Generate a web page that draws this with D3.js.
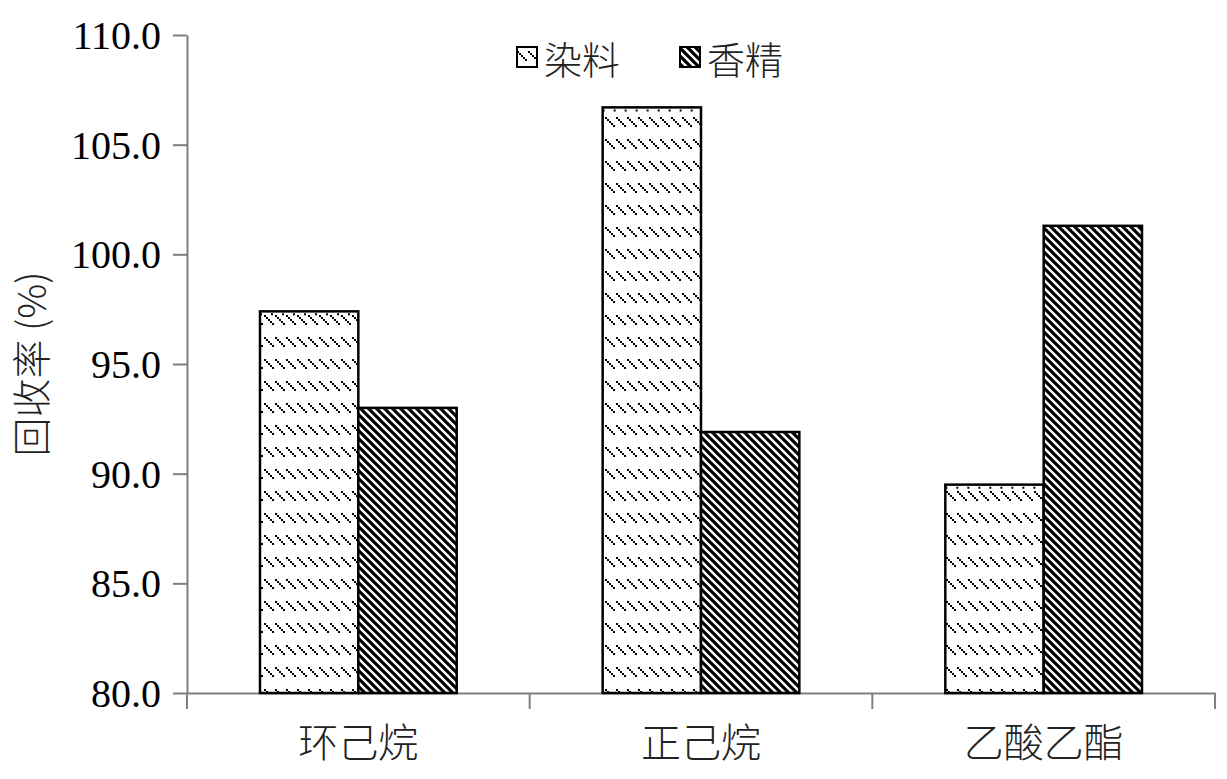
<!DOCTYPE html>
<html><head><meta charset="utf-8">
<script src="https://cdn.jsdelivr.net/npm/d3@7"></script>
<style>body{margin:0;background:#fff}</style>
</head><body>
<script>
const categories = ["环己烷", "正己烷", "乙酸乙酯"];
const seriesNames = ["染料", "香精"];
const dyeValues = [97.4, 106.7, 89.5];
const fragranceValues = [93.0, 91.9, 101.3];
const yTicks = [80, 85, 90, 95, 100, 105, 110];

const W = 1227, H = 779;
const m = {left: 187, right: 12, top: 35, bottom: 86};
const svg = d3.select("body").append("svg").attr("width", W).attr("height", H);
const defs = svg.append("defs");

// dotted diagonal pattern (染料)
const p1 = defs.append("pattern").attr("id", "pDye").attr("patternUnits", "userSpaceOnUse")
  .attr("width", 11).attr("height", 22);
p1.append("rect").attr("width", 11).attr("height", 22).attr("fill", "#fff");
[[0,0],[2,2],[4,4],[6,6],[8,8]].forEach(([x,y]) => {
  p1.append("rect").attr("x", x).attr("y", y + 7).attr("width", 2).attr("height", 2).attr("fill", "#000");
});
// diagonal stripes (香精)
const p2 = defs.append("pattern").attr("id", "pFrag").attr("patternUnits", "userSpaceOnUse")
  .attr("width", 8).attr("height", 8);
p2.append("rect").attr("width", 8).attr("height", 8).attr("fill", "#fff");
p2.append("path").attr("d", "M-2,-2 L10,10 M-2,6 L2,10 M6,-2 L10,2").attr("stroke", "#000").attr("stroke-width", 3.2);

const x = d3.scaleBand().domain(categories).range([m.left, W - m.right]).paddingInner(0).paddingOuter(0);
const y = d3.scaleLinear().domain([80, 110]).range([H - m.bottom, m.top]);
const bw = x.bandwidth() * 0.287;

// axes
const axisColor = "#808080";
const gy = svg.append("g").attr("transform", `translate(${m.left},0)`)
  .call(d3.axisLeft(y).tickValues(yTicks).tickFormat(d3.format(".1f")).tickSize(14).tickSizeOuter(0));
gy.select(".domain").attr("stroke", axisColor).attr("stroke-width", 2);
gy.selectAll(".tick line").attr("stroke", axisColor).attr("stroke-width", 2);
gy.selectAll(".tick text").attr("font-family", "Liberation Serif").attr("font-size", 40).attr("fill", "#000").attr("x", -26).attr("dy", "0.34em");

const gx = svg.append("g").attr("transform", `translate(0,${H - m.bottom})`)
  .call(d3.axisBottom(x).tickSize(0).tickSizeOuter(0));
gx.select(".domain").attr("stroke", axisColor).attr("stroke-width", 2);
gx.selectAll(".tick text").attr("font-family", "Noto Sans CJK SC").attr("font-weight", 300).attr("font-size", 40).attr("fill", "#222").attr("dy", 0).attr("y", 64);
// category boundary ticks
const bounds = categories.map(c => x(c)).concat([x(categories[categories.length-1]) + x.bandwidth()]);
svg.append("g").selectAll("line").data(bounds).join("line")
  .attr("x1", d => d).attr("x2", d => d).attr("y1", H - m.bottom).attr("y2", H - m.bottom + 16)
  .attr("stroke", axisColor).attr("stroke-width", 2);

// bars
const series = [dyeValues, fragranceValues];
const fills = ["url(#pDye)", "url(#pFrag)"];
series.forEach((vals, si) => {
  svg.append("g").selectAll("rect").data(categories).join("rect")
    .attr("x", c => x(c) + x.bandwidth() / 2 - bw + si * bw)
    .attr("y", (c, i) => y(vals[i]))
    .attr("width", bw)
    .attr("height", (c, i) => y(80) - y(vals[i]))
    .attr("fill", fills[si]).attr("stroke", "#000").attr("stroke-width", 2.5);
});
// dotted top edge on dye bars
svg.append("g").selectAll("line").data(categories).join("line")
  .attr("x1", c => x(c) + x.bandwidth() / 2 - bw).attr("x2", c => x(c) + x.bandwidth() / 2)
  .attr("y1", (c, i) => y(dyeValues[i]) + 3).attr("y2", (c, i) => y(dyeValues[i]) + 3)
  .attr("stroke", "#000").attr("stroke-width", 2).attr("stroke-dasharray", "2,9");

// y title
svg.append("text").attr("transform", `translate(46,${364}) rotate(-90)`)
  .attr("text-anchor", "middle").attr("font-family", "Noto Sans CJK SC").attr("font-weight", 300)
  .attr("font-size", 39).attr("fill", "#222").text("回收率 (%)");

// legend
const leg = svg.append("g");
const legX = [517, 680];
seriesNames.forEach((n, i) => {
  leg.append("rect").attr("x", legX[i]).attr("y", 47).attr("width", 20).attr("height", 20)
    .attr("fill", fills[i]).attr("stroke", "#000").attr("stroke-width", 2);
  leg.append("text").attr("x", legX[i] + 27).attr("y", 74).attr("font-family", "Noto Sans CJK SC")
    .attr("font-weight", 300).attr("font-size", 38).attr("fill", "#222").text(n);
});
</script>
</body></html>
